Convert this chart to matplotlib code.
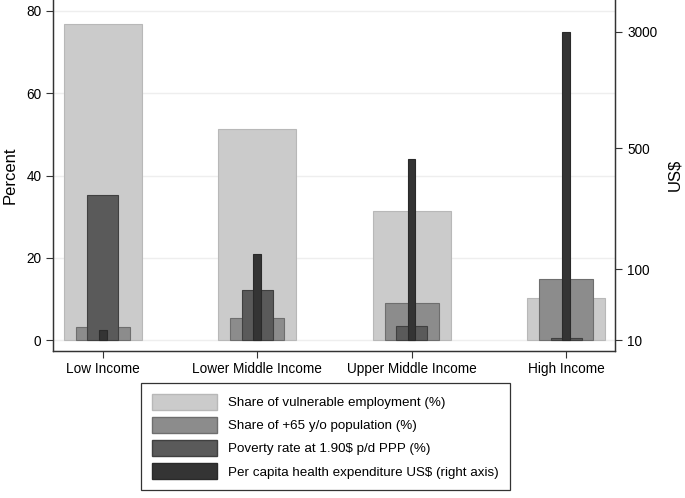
import numpy as np
import matplotlib.pyplot as plt
from matplotlib.patches import Patch

plt.rcParams['font.family'] = ['Liberation Sans', 'DejaVu Sans']

# data
categories = ['Low Income', 'Lower Middle Income', 'Upper Middle Income', 'High Income']
vulnerable = [76.7, 51.3, 31.5, 10.2]   # % (left axis)
pop65 = [3.3, 5.3, 9.0, 14.8]           # % (left axis)
poverty = [35.3, 12.3, 3.4, 0.5]        # % (left axis)
health = [14, 122, 432, 3000]           # US$ (right axis)

# right axis labels and where they sit in left-axis units
us_ticks = [10, 100, 500, 3000]
us_pos = [0, 17.23, 46.6, 74.9]

lg = np.log10(us_ticks)
s0 = (us_pos[1] - us_pos[0]) / (lg[1] - lg[0])
s1 = (us_pos[-1] - us_pos[-2]) / (lg[-1] - lg[-2])
knots_log = np.concatenate([[lg[0] - 3], lg, [lg[-1] + 3]])
knots_pos = np.concatenate([[us_pos[0] - 3 * s0], us_pos, [us_pos[-1] + 3 * s1]])


def fwd(v):
    v = np.clip(np.asarray(v, dtype=float), 1e-6, None)
    return np.interp(np.log10(v), knots_log, knots_pos)


def inv(p):
    return 10 ** np.interp(np.asarray(p, dtype=float), knots_pos, knots_log)


c_vul = '#cbcbcb'
c_65 = '#8c8c8c'
c_pov = '#5a5a5a'
c_hea = '#343434'

fig = plt.figure(figsize=(6.85, 4.98), dpi=100)
ax = fig.add_axes([53.3 / 685, 1 - 350.7 / 498, (615.3 - 53.3) / 685, 350.7 / 498])
x = np.arange(len(categories))

ylo, yhi = -2.52, 82.6
ax.bar(x, vulnerable, width=0.507, color=c_vul, edgecolor='#b8b8b8', linewidth=0.8, zorder=2)
ax.bar(x, pop65, width=0.352, color=c_65, edgecolor='#6e6e6e', linewidth=0.8, zorder=3)
ax.bar(x, poverty, width=0.2, color=c_pov, edgecolor='#404040', linewidth=0.8, zorder=4)
ax.set_ylim(ylo, yhi)
ax.set_xlim(-0.32, 3.318)
ax.set_yticks([0, 20, 40, 60, 80])
ax.yaxis.grid(True, color='#eeeeee', linewidth=1.0)
ax.set_axisbelow(True)
ax.set_xticks(x)
ax.set_xticklabels(categories, fontsize=9.8)
ax.tick_params(axis='y', labelsize=9.8, length=5, width=0.8, color='#333333')
ax.tick_params(axis='x', length=5, width=0.8, color='#333333', pad=3)
ax.set_ylabel('Percent', fontsize=12, labelpad=6)

ax2 = ax.twinx()
ax2.set_yscale('function', functions=(fwd, inv))
ax2.bar(x, np.array(health) - 10, bottom=10, width=0.049, color=c_hea,
        edgecolor='#2a2a2a', linewidth=0.8, zorder=5)
ax2.set_ylim(inv(ylo), inv(yhi))
ax2.set_yticks(us_ticks)
ax2.set_yticklabels([str(t) for t in us_ticks])
ax2.yaxis.set_minor_locator(plt.NullLocator())
ax2.tick_params(axis='y', labelsize=9.8, length=5, width=0.8, color='#333333')
ax2.set_ylabel('US$', fontsize=12, labelpad=7)

for a in (ax, ax2):
    a.spines['top'].set_visible(False)
    for s in ('left', 'right', 'bottom'):
        a.spines[s].set_color('#333333')
        a.spines[s].set_linewidth(0.9)

handles = [
    Patch(facecolor=c_vul, edgecolor='#b8b8b8'),
    Patch(facecolor=c_65, edgecolor='#6e6e6e'),
    Patch(facecolor=c_pov, edgecolor='#404040'),
    Patch(facecolor=c_hea, edgecolor='#2a2a2a'),
]
labels = ['Share of vulnerable employment (%)', 'Share of +65 y/o population (%)',
          'Poverty rate at 1.90$ p/d PPP (%)', 'Per capita health expenditure US$ (right axis)']
leg = fig.legend(handles, labels, loc='upper left', bbox_to_anchor=(141 / 685, 1 - 383 / 498),
                 fontsize=9.6, handlelength=4.9, handleheight=1.45, labelspacing=0.55,
                 handletextpad=0.85, borderpad=0.8, borderaxespad=0, fancybox=False,
                 framealpha=1)
leg.get_frame().set_edgecolor('#333333')
leg.get_frame().set_linewidth(0.9)

fig.savefig('out.png', dpi=100)
